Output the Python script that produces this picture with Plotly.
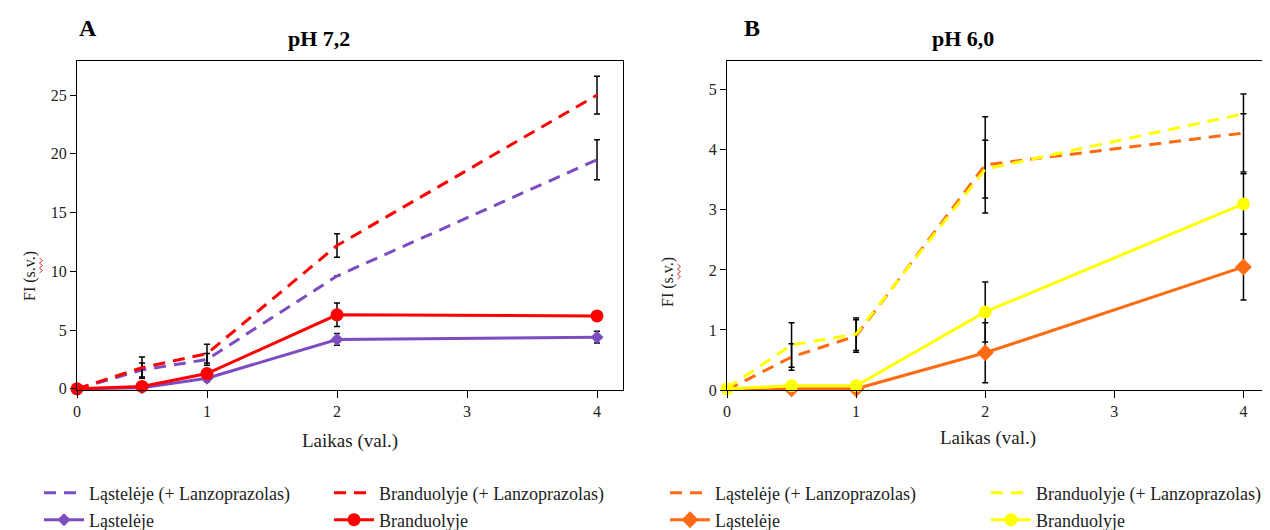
import plotly.graph_objects as go

# ---- data ----
time_h = [0, 0.5, 1, 2, 4]

# Panel A (pH 7,2)
a_cell_lanz = [0, 1.6, 2.5, 9.6, 19.5]
a_cell_lanz_err = [0, 0.6, 0.5, 0, 1.7]
a_nuc_lanz = [0, 1.8, 3.0, 12.2, 25.0]
a_nuc_lanz_err = [0, 0.9, 0.8, 1.0, 1.6]
a_cell = [0, 0.1, 0.9, 4.2, 4.4]
a_cell_err = [0, 0.1, 0.3, 0.5, 0.5]
a_nuc = [0, 0.2, 1.3, 6.3, 6.2]
a_nuc_err = [0, 0.1, 0.4, 1.0, 0.3]

# Panel B (pH 6,0)
b_cell_lanz = [0, 0.55, 0.9, 3.75, 4.28]
b_cell_lanz_err = [0, 0.22, 0.27, 0.8, 0.65]
b_nuc_lanz = [0.03, 0.75, 0.93, 3.68, 4.6]
b_nuc_lanz_err = [0, 0.37, 0.27, 0.48, 0]
b_cell = [-0.02, 0.02, 0.02, 0.62, 2.05]
b_cell_err = [0, 0, 0, 0.5, 0.55]
b_nuc = [0.02, 0.07, 0.07, 1.3, 3.1]
b_nuc_err = [0, 0, 0, 0.5, 0.5]

names = ["Ląstelėje (+ Lanzoprazolas)", "Branduolyje (+ Lanzoprazolas)", "Ląstelėje", "Branduolyje"]
x_ticks = [0, 1, 2, 3, 4]

PURPLE = "#7D4CC0"
RED = "#FF0000"
ORANGE = "#FF6A12"
YELLOW = "#FFFF00"
FONT = "Times New Roman, Liberation Serif, DejaVu Serif, serif"
DASH = "12px,8px"

fig = go.Figure()

def add(xa, ya, y, err, name, color, dashed, symbol, msize, legend):
    fig.add_trace(go.Scatter(
        x=time_h, y=y, name=name, xaxis=xa, yaxis=ya, legend=legend,
        mode="lines" if dashed else "lines+markers",
        line=dict(color=color, width=3, dash=DASH if dashed else "solid"),
        marker=dict(symbol=symbol, size=msize, color=color),
        error_y=dict(type="data", array=err, visible=True, color="black", thickness=1.5, width=3),
        cliponaxis=False,
    ))

add("x", "y", a_cell_lanz, a_cell_lanz_err, names[0], PURPLE, True, "diamond", 10, "legend")
add("x", "y", a_nuc_lanz, a_nuc_lanz_err, names[1], RED, True, "circle", 13, "legend")
add("x", "y", a_cell, a_cell_err, names[2], PURPLE, False, "diamond", 10, "legend2")
add("x", "y", a_nuc, a_nuc_err, names[3], RED, False, "circle", 13, "legend2")

add("x2", "y2", b_cell_lanz, b_cell_lanz_err, names[0], ORANGE, True, "diamond", 13, "legend3")
add("x2", "y2", b_nuc_lanz, b_nuc_lanz_err, names[1], YELLOW, True, "circle", 13, "legend3")
add("x2", "y2", b_cell, b_cell_err, names[2], ORANGE, False, "diamond", 13, "legend4")
add("x2", "y2", b_nuc, b_nuc_err, names[3], YELLOW, False, "circle", 13, "legend4")

# page body has an 8px margin -> work in reference pixel coords shifted by 8
OFF = 8
W, H = 1270 - OFF, 530 - OFF

def px(x):
    return (x - OFF) / W

def py(y):
    return (H - (y - OFF)) / H

tickfont = dict(family=FONT, size=16, color="#222")
axis_common = dict(showline=True, linecolor="black", linewidth=1.3, mirror=True,
                   ticks="outside", tickcolor="black", showgrid=False,
                   zeroline=False, tickfont=tickfont)

leg_common = dict(orientation="h", xanchor="left", yanchor="middle",
                  xref="container", yref="container",
                  entrywidthmode="pixels", bgcolor="rgba(0,0,0,0)",
                  font=dict(family=FONT, size=18, color="#222"), itemwidth=40,
                  tracegroupgap=0)

fig.update_layout(
    width=W, height=H, margin=dict(l=0, r=0, t=0, b=0, autoexpand=False),
    paper_bgcolor="white", plot_bgcolor="white",
    showlegend=True,
    xaxis=dict(domain=[px(77), px(623)], range=[0, 4.2], tickvals=x_ticks, anchor="y",
               ticklen=7, ticklabelstandoff=0, **axis_common),
    yaxis=dict(domain=[py(390), py(61)], range=[-0.1, 27.9], tickvals=[0, 5, 10, 15, 20, 25], anchor="x",
               ticklen=6, **axis_common),
    xaxis2=dict(domain=[px(727), px(1268)], range=[0, 4.19], tickvals=x_ticks, anchor="y2",
                ticklen=7, ticklabelstandoff=0, **axis_common),
    yaxis2=dict(domain=[py(390), py(61)], range=[0, 5.48], tickvals=[0, 1, 2, 3, 4, 5], anchor="x2",
                ticklen=6, **axis_common),
    legend=dict(x=px(39), y=py(493), entrywidth=235, **leg_common),
    legend2=dict(x=px(39), y=py(520), entrywidth=235, **leg_common),
    legend3=dict(x=px(665), y=py(493), entrywidth=266, **leg_common),
    legend4=dict(x=px(665), y=py(520), entrywidth=266, **leg_common),
)

def text(x, y, s, size, bold=False, angle=0):
    fig.add_annotation(x=px(x), y=py(y), xref="paper", yref="paper", showarrow=False,
                       text=f"<b>{s}</b>" if bold else s, textangle=angle,
                       font=dict(family=FONT, size=size, color="black" if bold else "#222"),
                       xanchor="center", yanchor="middle")

text(88, 28, "A", 24, bold=True)
text(319, 38, "pH 7,2", 22, bold=True)
text(752, 28, "B", 24, bold=True)
text(963, 38, "pH 6,0", 22, bold=True)
text(350, 441, "Laikas (val.)", 19)
text(988, 438, "Laikas (val.)", 19)
text(30, 276, "FI (s.v.)", 16, angle=-90)
text(668, 282, "FI (s.v.)", 16, angle=-90)

# red spell-check squiggle under "s.v." in the axis titles
def squiggle(x0, y_top, y_bot):
    pts = []
    y = y_top
    k = 0
    while y <= y_bot:
        pts.append((x0 + (1.5 if k % 2 else -1.5), y))
        y += 2.5
        k += 1
    path = "M " + " L ".join(f"{px(a):.5f},{py(b):.5f}" for a, b in pts)
    fig.add_shape(type="path", path=path, xref="paper", yref="paper",
                  line=dict(color="#E03030", width=1))

squiggle(41, 258, 274)
squiggle(679, 264, 280)

fig.write_html("out.html")
